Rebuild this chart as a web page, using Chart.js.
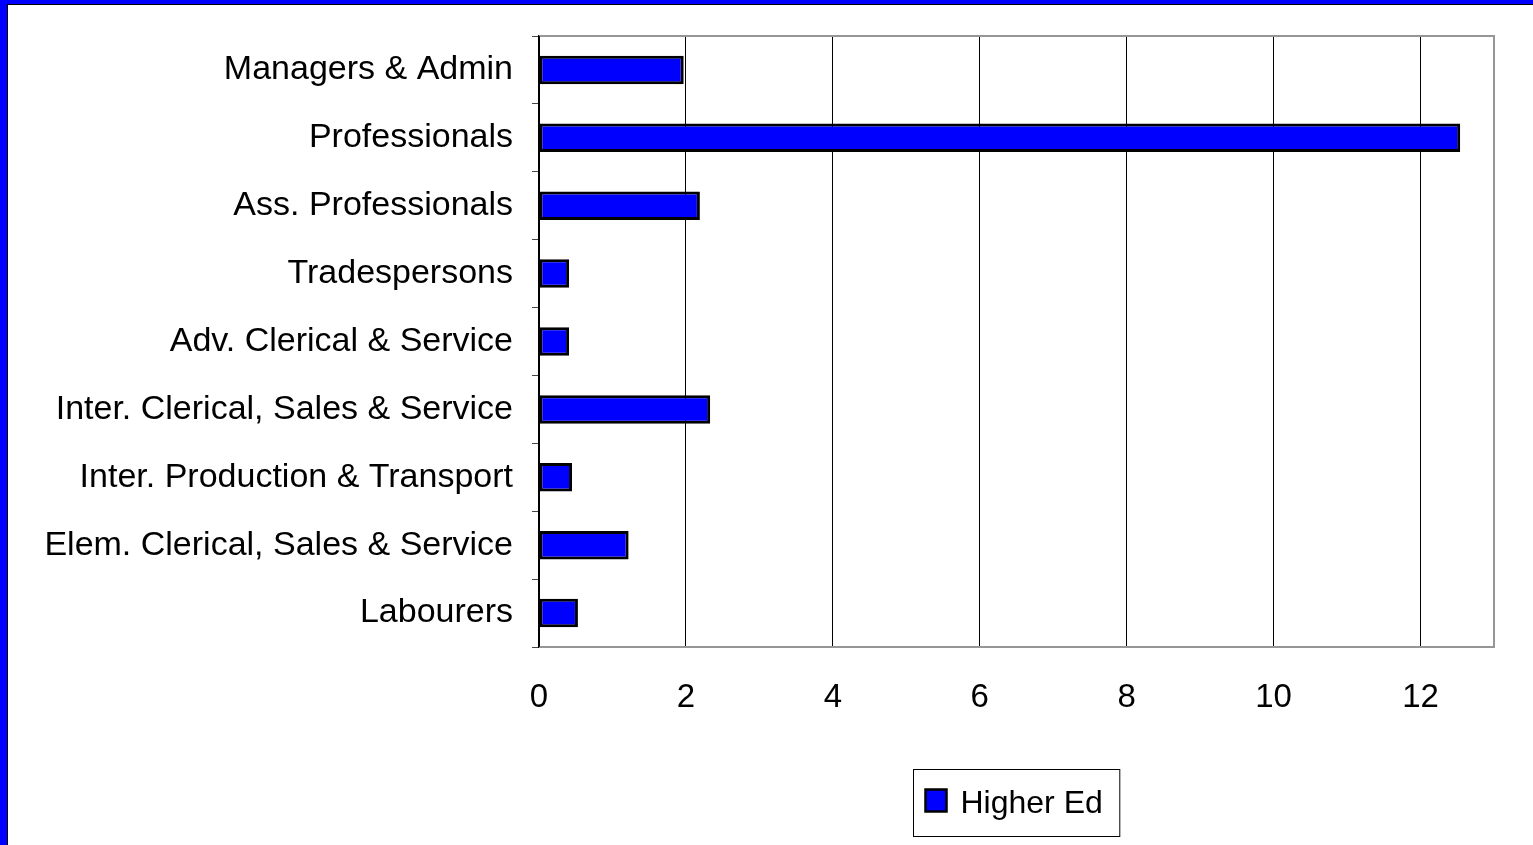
<!DOCTYPE html>
<html>
<head>
<meta charset="utf-8">
<script src="https://cdn.jsdelivr.net/npm/chart.js@4"></script>
<style>
  html, body { margin: 0; padding: 0; overflow: hidden; background: #0000ff; }
  #frame { position: absolute; left: 7px; top: 4px; width: 1600px; height: 900px;
           background: #fff; border-left: 1px solid #000; border-top: 1px solid #000; }
  #chart { position: absolute; left: 0; top: 0; }
</style>
</head>
<body>
<div id="frame"></div>
<canvas id="chart" width="1533" height="845"></canvas>
<script>
const categories = [
  'Managers & Admin',
  'Professionals',
  'Ass. Professionals',
  'Tradespersons',
  'Adv. Clerical & Service',
  'Inter. Clerical, Sales & Service',
  'Inter. Production & Transport',
  'Elem. Clerical, Sales & Service',
  'Labourers'
];
const higherEd = [1.97, 12.54, 2.19, 0.41, 0.41, 2.33, 0.45, 1.22, 0.53];
const seriesName = 'Higher Ed';

const FONT = 'Arial, "Liberation Sans", sans-serif';

// grey frame round the plot area, black left axis drawn again on top
const plotFrame = {
  id: 'plotFrame',
  afterDatasetsDraw(chart) {
    const { ctx, chartArea: a } = chart;
    ctx.save();
    ctx.strokeStyle = '#969696';
    ctx.lineWidth = 2;
    ctx.beginPath();
    ctx.moveTo(a.left, a.top);
    ctx.lineTo(a.right, a.top);
    ctx.lineTo(a.right, a.bottom);
    ctx.lineTo(a.left, a.bottom);
    ctx.stroke();
    ctx.strokeStyle = '#000';
    ctx.lineWidth = 1.5;
    ctx.beginPath();
    ctx.moveTo(a.left, a.top);
    ctx.lineTo(a.left, a.bottom);
    ctx.stroke();
    ctx.restore();
  }
};

// boxed legend under the plot, centred on the plot area
const boxLegend = {
  id: 'boxLegend',
  afterDraw(chart) {
    const { ctx, chartArea: a } = chart;
    const ds = chart.data.datasets[0];
    ctx.save();
    ctx.font = '32px ' + FONT;
    const tw = ctx.measureText(ds.label).width;
    const w = 12 + 21 + 14 + tw + 17;
    const h = 67;
    const x = Math.round((a.left + a.right) / 2 - w / 2) + 0.5;
    const y = 769.5;
    ctx.strokeStyle = '#000';
    ctx.lineWidth = 1;
    ctx.strokeRect(x, y, w, h);
    ctx.fillStyle = ds.backgroundColor;
    ctx.fillRect(x + 12, y + 20, 21, 22);
    ctx.lineWidth = 2.5;
    ctx.strokeRect(x + 12, y + 20, 21, 22);
    ctx.fillStyle = '#000';
    ctx.textBaseline = 'middle';
    ctx.fillText(ds.label, x + 47, y + h / 2 + 1);
    ctx.restore();
  }
};

new Chart(document.getElementById('chart'), {
  type: 'bar',
  data: {
    labels: categories,
    datasets: [{
      label: seriesName,
      data: higherEd,
      backgroundColor: '#0000ff',
      borderColor: '#000',
      borderWidth: 3,
      borderSkipped: false,
      barPercentage: 0.42,
      categoryPercentage: 1
    }]
  },
  options: {
    indexAxis: 'y',
    responsive: false,
    animation: false,
    layout: { padding: { left: 0, top: 36, right: 39, bottom: 98 } },
    plugins: { legend: { display: false }, tooltip: { enabled: false } },
    scales: {
      x: {
        min: 0,
        max: 13,
        afterFit(scale) { scale.height = 100; scale.paddingLeft = 0; scale.paddingRight = 0; },
        ticks: { stepSize: 2, includeBounds: false, color: '#000', padding: 31,
                 font: { family: FONT, size: 33 } },
        grid: { color: '#000', lineWidth: 1, drawTicks: false },
        border: { color: '#969696', width: 2 }
      },
      y: {
        afterFit(scale) { scale.width = 539; scale.paddingTop = 0; scale.paddingBottom = 0; },
        ticks: { color: '#000', padding: 19, font: { family: FONT, size: 34 } },
        grid: { offset: true, drawOnChartArea: false, drawTicks: true, tickLength: 7,
                color: '#444', lineWidth: 1 },
        border: { color: '#000', width: 1.5 }
      }
    }
  },
  plugins: [plotFrame, boxLegend]
});
</script>
</body>
</html>
